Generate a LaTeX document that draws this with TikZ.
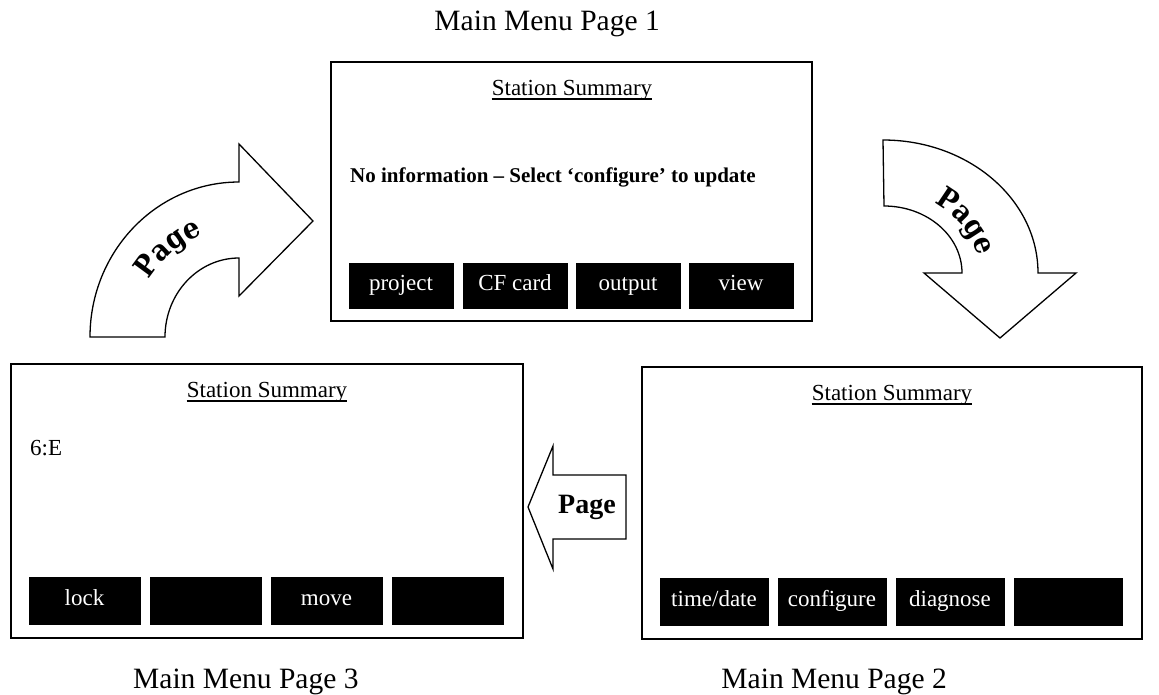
\documentclass[tikz,border=0pt]{standalone}
\usepackage{fontspec}
\setmainfont{Liberation Serif}
\newfontfamily\curvefamily[FakeStretch=0.9]{DejaVu Serif}
\usetikzlibrary{decorations.text}
\newcommand{\curvefont}{\curvefamily\bfseries\fontsize{29}{32}\selectfont}
\begin{document}
\begin{tikzpicture}[x=1pt,y=-1pt,
  screen/.style={draw, line width=1.6pt, inner sep=0pt},
  btn/.style={fill=black, draw=black, text=white, inner sep=0pt,
    text height=14pt, text depth=5pt, font=\fontsize{23}{27}\selectfont},
  body/.style={inner sep=0pt, font=\fontsize{23}{27}\selectfont},
  lbl/.style={inner sep=0pt, font=\fontsize{29.5}{34}\selectfont},
  bigarrow/.style={draw, line width=1.3pt, fill=white, line join=miter},
  ul/.style={line width=1.1pt}
]
\useasboundingbox (0,0) rectangle (1159,694);

% ---------- screens ----------
\node[screen, minimum width=481pt, minimum height=259pt] (s1) at (571.5,191.5) {};
\node[screen, minimum width=512pt, minimum height=274pt] (s3) at (267,501) {};
\node[screen, minimum width=500pt, minimum height=272pt] (s2) at (892,503) {};

% ---------- titles ----------
\node[body, anchor=base] (t1) at (572,95) {Station Summary};
\draw[ul] ([yshift=-4pt]t1.base west) -- ([yshift=-4pt]t1.base east);
\node[body, anchor=base] (t3) at (267,397) {Station Summary};
\draw[ul] ([yshift=-4pt]t3.base west) -- ([yshift=-4pt]t3.base east);
\node[body, anchor=base] (t2) at (892,400) {Station Summary};
\draw[ul] ([yshift=-4pt]t2.base west) -- ([yshift=-4pt]t2.base east);

\node[inner sep=0pt, anchor=base west, font=\bfseries\fontsize{21}{25}\selectfont] (info) at (350,182)
  {No information – Select ‘configure’ to update};
\node[body, anchor=base west] (six) at (30,455) {6:E};

% ---------- buttons page 1 ----------
\node[btn, minimum width=104pt, minimum height=45pt] (b11) at (401,285.5) {project};
\node[btn, minimum width=104pt, minimum height=45pt] (b12) at (515,285.5) {CF card};
\node[btn, minimum width=104pt, minimum height=45pt] (b13) at (628,285.5) {output};
\node[btn, minimum width=104pt, minimum height=45pt] (b14) at (741,285.5) {view};

% ---------- buttons page 3 ----------
\node[btn, minimum width=111pt, minimum height=47pt] (b31) at (84.5,600.5) {lock};
\node[btn, minimum width=111pt, minimum height=47pt] (b32) at (205.5,600.5) {};
\node[btn, minimum width=111pt, minimum height=47pt] (b33) at (326.5,600.5) {move};
\node[btn, minimum width=111pt, minimum height=47pt] (b34) at (447.5,600.5) {};

% ---------- buttons page 2 ----------
\node[btn, minimum width=108pt, minimum height=47pt] (b21) at (714,601.5) {time/date};
\node[btn, minimum width=108pt, minimum height=47pt] (b22) at (832,601.5) {configure};
\node[btn, minimum width=108pt, minimum height=47pt] (b23) at (950,601.5) {diagnose};
\node[btn, minimum width=108pt, minimum height=47pt] (b24) at (1068,601.5) {};

% ---------- labels ----------
\node[lbl, anchor=base east] (l1) at (660,30) {Main Menu Page 1};
\node[lbl, anchor=base west] (l3) at (133,688) {Main Menu Page 3};
\node[lbl, anchor=base east] (l2) at (947,688) {Main Menu Page 2};

% ---------- curved arrow 3 -> 1 ----------
\path[bigarrow] (90,337) arc[start angle=180, end angle=270, x radius=149, y radius=155]
  -- (239,144) -- (313,221) -- (239,296) -- (239,258)
  arc[start angle=270, end angle=180, x radius=74, y radius=79] -- cycle;
\path[decorate, decoration={text along path, text={|\curvefont|Page}, text align=center}]
  (133,337) arc[start angle=180, end angle=284, x radius=104, y radius=108];

% ---------- curved arrow 1 -> 2 ----------
\path[bigarrow] (883,140) arc[start angle=270, end angle=360, x radius=155, y radius=133]
  -- (1076,273) -- (1000,338) -- (924,273) -- (962,273)
  arc[start angle=360, end angle=270, x radius=78, y radius=67] -- cycle;
\path[decorate, decoration={text along path, text={|\curvefont|Page}, text align=center}]
  (883,190) arc[start angle=270, end angle=385, x radius=97, y radius=83];

% ---------- straight arrow 2 -> 3 ----------
\path[bigarrow] (626,475) -- (553,475) -- (553,446) -- (528,507) -- (553,569)
  -- (553,539) -- (626,539) -- cycle;
\node[inner sep=0pt, anchor=base, font=\bfseries\fontsize{28}{32}\selectfont] (pg) at (587,513) {Page};
\end{tikzpicture}
\end{document}
